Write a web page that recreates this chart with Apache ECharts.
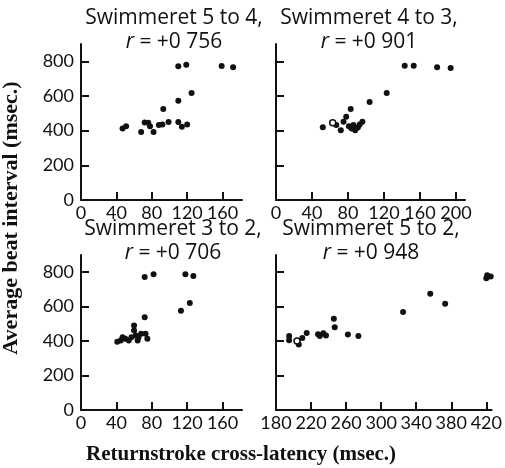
<!DOCTYPE html>
<html>
<head>
<meta charset="utf-8">
<script src="https://cdn.jsdelivr.net/npm/echarts@6/dist/echarts.min.js"></script>
<style>
  html, body { margin: 0; padding: 0; background: #fff; }
  #charts-con { width: 505px; height: 468px; }
</style>
</head>
<body>
<div id="charts-con"></div>
<script>
// panel titles
var titles = ['Swimmeret 5 to 4,', 'Swimmeret 4 to 3,', 'Swimmeret 3 to 2,', 'Swimmeret 5 to 2,'];
var rValues = ['+0 756', '+0 901', '+0 706', '+0 948'];

// tick labels
var yTicks = [0, 200, 400, 600, 800];
var xTicksA = [0, 40, 80, 120, 160];
var xTicksB = [0, 40, 80, 120, 160, 200];
var xTicksC = [180, 220, 260, 300, 340, 380, 420];

// [cross-latency, beat interval]
var data54 = [[47,412],[51,426],[68,393],[72,447],[76,445],[78,425],[82,393],[88,432],[92,435],[99,450],
  [93,525],[110,572],[110,450],[114,422],[120,436],[110,771],[119,781],[125,618],[159,773],[172,766]];
var data43 = [[52,420],[67,432],[72,403],[75,451],[78,480],[83,525],[81,426],[84,412],[86,432],[88,403],
  [91,418],[93,436],[96,451],[104,566],[123,618],[143,775],[153,775],[179,766],[194,762]];
var data43open = [[63,445]];
var data32 = [[41,396],[45,404],[47,423],[50,414],[54,404],[57,423],[60,491],[60,462],[62,433],[64,404],
  [65,423],[68,443],[73,443],[75,414],[72,538],[72,772],[82,788],[113,576],[118,788],[127,778],[123,621]];
var data52 = [[195,430],[195,405],[206,380],[210,418],[215,447],[228,440],[230,430],[234,445],[237,432],
  [246,530],[247,481],[262,439],[274,429],[325,569],[356,675],[373,617],[421,782],[425,775],[420,765]];
var data52open = [[204,400]];

var myChart = echarts.init(document.getElementById('charts-con'));

var labelFont = { fontFamily: 'Lato', fontSize: 18, color: '#111' };

function xAxis(idx, min, max, ticks) {
    return {
        gridIndex: idx, type: 'value', min: min, max: max,
        splitLine: { show: false },
        axisLine: { lineStyle: { color: '#111', width: 2 } },
        axisTick: { inside: true, length: 8, customValues: ticks, lineStyle: { color: '#111', width: 2 } },
        axisLabel: Object.assign({ margin: 4, customValues: ticks }, labelFont)
    };
}

function yAxis(idx, showLabel) {
    return {
        gridIndex: idx, type: 'value', min: 0, max: 900,
        splitLine: { show: false },
        axisLine: { show: true, lineStyle: { color: '#111', width: 2 } },
        axisTick: { inside: true, length: 8, customValues: yTicks, lineStyle: { color: '#111', width: 2 } },
        axisLabel: Object.assign({ show: showLabel, margin: 7, customValues: yTicks }, labelFont)
    };
}

function dots(idx, data, open) {
    return {
        type: 'scatter', xAxisIndex: idx, yAxisIndex: idx, data: data,
        symbolSize: 6,
        itemStyle: open ? { color: '#fff', borderColor: '#111', borderWidth: 1.5, opacity: 1 } : { color: '#111', opacity: 1 }
    };
}

var titleCenters = [[169, 3, 27], [364, 3, 27], [168, 214, 238], [366, 214, 238]];
var titleList = [];
for (var i = 0; i < 4; i++) {
    titleList.push({
        text: titles[i], left: titleCenters[i][0], top: titleCenters[i][1], textAlign: 'center',
        textStyle: { fontFamily: 'Open Sans', fontSize: 21, fontWeight: 'normal', color: '#111' }
    });
    titleList.push({
        text: '{i|r} = ' + rValues[i], left: titleCenters[i][0], top: titleCenters[i][2], textAlign: 'center',
        textStyle: {
            fontFamily: 'Open Sans', fontSize: 21, fontWeight: 'normal', color: '#111',
            rich: { i: { fontFamily: 'Open Sans', fontSize: 21, fontStyle: 'italic', color: '#111' } }
        }
    });
}

var option = {
    animation: false,
    backgroundColor: '#fff',
    title: titleList,
    grid: [
        { left: 81, top: 44, width: 161, height: 156 },
        { left: 276, top: 44, width: 189, height: 156 },
        { left: 81, top: 255, width: 161, height: 155 },
        { left: 276, top: 255, width: 217, height: 155 }
    ],
    xAxis: [
        xAxis(0, 0, 182, xTicksA),
        xAxis(1, 0, 210, xTicksB),
        xAxis(2, 0, 182, xTicksA),
        xAxis(3, 180, 426, xTicksC)
    ],
    yAxis: [yAxis(0, true), yAxis(1, false), yAxis(2, true), yAxis(3, false)],
    series: [
        dots(0, data54),
        dots(1, data43),
        dots(1, data43open, true),
        dots(2, data32),
        dots(3, data52),
        dots(3, data52open, true)
    ],
    graphic: [
        {
            type: 'text', x: 11, y: 218, rotation: Math.PI / 2,
            style: {
                text: 'Average beat interval (msec.)', align: 'center', verticalAlign: 'middle',
                font: 'bold 22px "Liberation Serif"', fill: '#111'
            }
        },
        {
            type: 'text', x: 241, y: 455,
            style: {
                text: 'Returnstroke cross-latency (msec.)', align: 'center', verticalAlign: 'middle',
                font: 'bold 21px "Liberation Serif"', fill: '#111'
            }
        }
    ]
};
myChart.setOption(option);
</script>
</body>
</html>
